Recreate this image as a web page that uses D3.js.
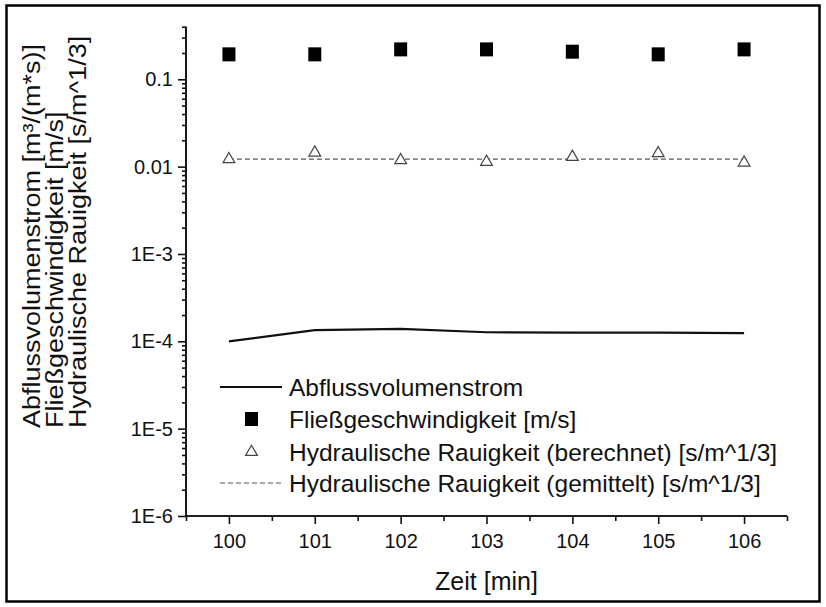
<!DOCTYPE html>
<html>
<head>
<meta charset="utf-8">
<script src="https://cdn.jsdelivr.net/npm/d3@7"></script>
<style>
  body { margin: 0; background: #fff; }
  text { font-family: "Liberation Sans", Arial, sans-serif; fill: #111; }
</style>
</head>
<body>
<svg id="chart" width="826" height="607"></svg>
<script>
// Zeitreihe 100..106 min
const times = [100, 101, 102, 103, 104, 105, 106]
const discharge = [1.00e-4, 1.34e-4, 1.39e-4, 1.27e-4, 1.26e-4, 1.26e-4, 1.24e-4]
const velocity = [0.193, 0.193, 0.220, 0.220, 0.207, 0.193, 0.220]
const roughness = [0.01215, 0.01446, 0.01184, 0.01132, 0.01291, 0.01423, 0.01111]
const roughnessMean = 0.0122

const xTicks = [100, 101, 102, 103, 104, 105, 106]
const yTicks = [1e-6, 1e-5, 1e-4, 1e-3, 0.01, 0.1]
const yTickLabels = ["1E-6", "1E-5", "1E-4", "1E-3", "0.01", "0.1"]
const yTitle = ["Abflussvolumenstrom [m³/(m*s)]", "Fließgeschwindigkeit [m/s]", "Hydraulische Rauigkeit [s/m^1/3]"]
const legendLabels = [
    "Abflussvolumenstrom",
    "Fließgeschwindigkeit [m/s]",
    "Hydraulische Rauigkeit (berechnet) [s/m^1/3]",
    "Hydraulische Rauigkeit (gemittelt) [s/m^1/3]"
]

const svg = d3.select("#chart")
const L = 186, R = 787, T = 26.7, B = 516

// outer frame
svg.append("rect")
    .attr("x", 6.5).attr("y", 5.5)
    .attr("width", 813).attr("height", 596)
    .attr("fill", "none").attr("stroke", "#000").attr("stroke-width", 2.5)

const x = d3.scaleLinear().domain([99.5, 106.5]).range([L, R])
const y = d3.scaleLog().domain([1e-6, 0.4]).range([B, T])

// minor ticks for the log axis
const yMinor = []
for (let e = -6; e <= -1; e++) {
    for (let m = 2; m <= 9; m++) {
        const v = m * Math.pow(10, e)
        if (v <= 0.4 + 1e-9) yMinor.push(v)
    }
}
const xMinor = d3.range(99.5, 106.6, 1)

const yAxis = svg.append("g").attr("transform", `translate(${L},0)`)
yAxis.call(d3.axisLeft(y).tickValues(yTicks).tickFormat((d, i) => yTickLabels[i]).tickSize(8).tickPadding(5))
yAxis.append("g").call(d3.axisLeft(y).tickValues(yMinor).tickFormat("").tickSize(4))
yAxis.selectAll(".domain").attr("d", `M0,${T}V${B}`)
yAxis.selectAll("path, line").attr("stroke", "#111").attr("stroke-width", 1.6)
yAxis.selectAll("text").style("font-size", "20px").attr("fill", "#111")

const xAxis = svg.append("g").attr("transform", `translate(0,${B})`)
xAxis.call(d3.axisBottom(x).tickValues(xTicks).tickFormat(d3.format("d")).tickSize(8).tickPadding(10))
xAxis.append("g").call(d3.axisBottom(x).tickValues(xMinor).tickFormat("").tickSize(5))
xAxis.selectAll(".domain").attr("d", `M${L},0H${R}`)
xAxis.selectAll("path, line").attr("stroke", "#111").attr("stroke-width", 1.6)
xAxis.selectAll("text").style("font-size", "20px").attr("fill", "#111")

// axis titles
svg.append("text")
    .attr("x", (L + R) / 2).attr("y", 590)
    .attr("text-anchor", "middle")
    .style("font-size", "25px")
    .text("Zeit [min]")

svg.append("g")
    .selectAll("text")
    .data(yTitle)
    .join("text")
    .attr("transform", (d, i) => `translate(${40 + i * 23},428) rotate(-90) scale(1,0.92)`)
    .style("font-size", "27px")
    .text(d => d)

// discharge line
const line = d3.line()
    .x((d, i) => x(times[i]))
    .y(d => y(d))
svg.append("path")
    .datum(discharge)
    .attr("fill", "none")
    .attr("stroke", "#111")
    .attr("stroke-width", 2.2)
    .attr("d", line)

// mean roughness
svg.append("line")
    .attr("x1", x(times[0])).attr("x2", x(times[times.length - 1]))
    .attr("y1", y(roughnessMean)).attr("y2", y(roughnessMean))
    .attr("stroke", "#555").attr("stroke-width", 1.2)
    .attr("stroke-dasharray", "5,3")

// velocity squares
svg.append("g")
    .selectAll("rect")
    .data(velocity)
    .join("rect")
    .attr("x", (d, i) => x(times[i]) - 6.5)
    .attr("y", d => y(d) - 7)
    .attr("width", 13).attr("height", 14)
    .attr("fill", "#000")

// computed roughness triangles
const tri = d3.symbol().type(d3.symbolTriangle).size(60)
svg.append("g")
    .selectAll("path")
    .data(roughness)
    .join("path")
    .attr("transform", (d, i) => `translate(${x(times[i])},${y(d)})`)
    .attr("d", tri)
    .attr("fill", "#fff")
    .attr("stroke", "#444")
    .attr("stroke-width", 1.2)

// legend
const rows = [387, 419, 452, 483]
const lg = svg.append("g")
lg.append("line").attr("x1", 220).attr("x2", 282).attr("y1", rows[0]).attr("y2", rows[0])
    .attr("stroke", "#111").attr("stroke-width", 2.2)
lg.append("rect").attr("x", 245).attr("y", rows[1] - 7).attr("width", 13).attr("height", 14).attr("fill", "#000")
lg.append("path").attr("transform", `translate(251.5,${rows[2]})`).attr("d", tri)
    .attr("fill", "#fff").attr("stroke", "#444").attr("stroke-width", 1.2)
lg.append("line").attr("x1", 220).attr("x2", 282).attr("y1", rows[3]).attr("y2", rows[3])
    .attr("stroke", "#555").attr("stroke-width", 1.2).attr("stroke-dasharray", "5,3")
lg.selectAll("text")
    .data(legendLabels)
    .join("text")
    .attr("x", 289)
    .attr("y", (d, i) => rows[i])
    .attr("dy", "0.36em")
    .style("font-size", "24.5px")
    .text(d => d)
</script>
</body>
</html>
